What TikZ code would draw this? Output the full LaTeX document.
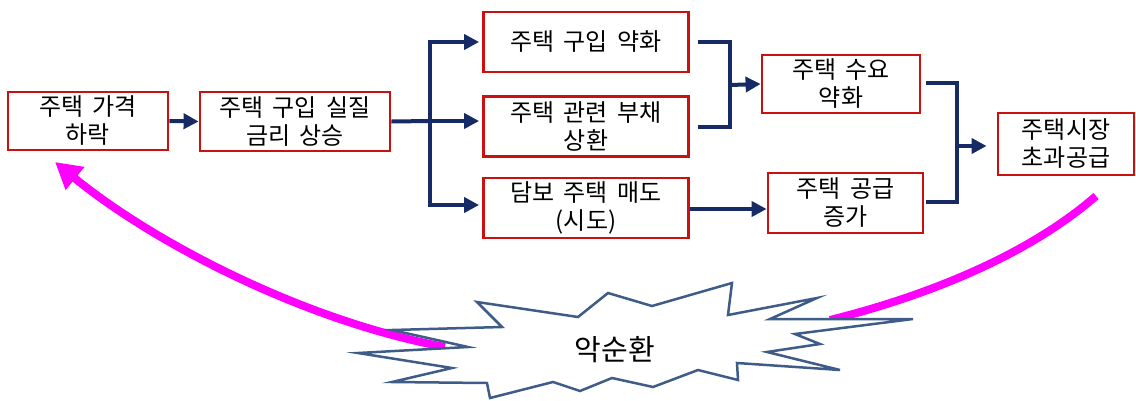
\documentclass[tikz,border=0pt]{standalone}
\usepackage{fontspec}
\setmainfont[WordSpace=1.7]{Noto Sans CJK KR}
\usetikzlibrary{arrows.meta}
\definecolor{boxred}{RGB}{204,16,16}
\definecolor{navy}{RGB}{22,43,102}
\definecolor{mag}{RGB}{255,0,255}
\definecolor{starblue}{RGB}{62,92,135}
\tikzset{
  box/.style={draw=boxred, line width=2.8pt, fill=white, align=center, inner sep=0pt,
    font=\fontsize{24}{28}\selectfont},
  conn/.style={draw=navy, line width=4pt},
  arr/.style={conn, -{Triangle[length=15pt,width=15pt]}},
  cyc/.style={draw=mag, line width=8pt},
}
\begin{document}
\begin{tikzpicture}[x=1pt,y=-1pt]
\useasboundingbox (0,0) rectangle (1136,400);
% boxes
\node[box, minimum width=160pt, minimum height=58pt] (A) at (88,121) {주택 가격\\하락};
\node[box, minimum width=190pt, minimum height=59pt] (B) at (295,121.5) {주택 구입 실질\\금리 상승};
\node[box, minimum width=205pt, minimum height=60pt] (C) at (586,42) {주택 구입 약화};
\node[box, minimum width=205pt, minimum height=60pt] (D) at (586,126.5) {주택 관련 부채\\상환};
\node[box, minimum width=205pt, minimum height=60pt] (E) at (586,208) {담보 주택 매도\\(시도)};
\node[box, minimum width=158pt, minimum height=58pt] (F) at (841,84) {주택 수요\\약화};
\node[box, minimum width=155pt, minimum height=60pt] (G) at (845.5,203) {주택 공급\\증가};
\node[box, minimum width=136pt, minimum height=62pt] (H) at (1066,144) {주택시장\\초과공급};
% connectors
\coordinate (j1) at (430,121);
\coordinate (j2) at (730,85);
\coordinate (j3) at (957,146);
\draw[arr] (A.east) -- (B.west);
\draw[conn] (B.east) -- (j1);
\draw[arr] (j1) |- ([xshift=-3pt]C.west);
\draw[arr] (j1) -- ([xshift=-3pt]j1 -| D.west);
\draw[arr] (j1) |- ([xshift=-3pt,yshift=3pt]E.west);
\draw[conn] ([xshift=8pt]C.east) -| (j2);
\draw[conn] ([xshift=8pt]D.east) -| (j2);
\draw[arr] (j2) -- (F.west);
\draw[arr] ([yshift=-1pt]E.east) -- ([yshift=-1pt]E.east -| G.west);
\draw[conn] ([xshift=5pt,yshift=1pt]F.east) -| (j3);
\draw[conn] ([xshift=2pt,yshift=1pt]G.east) -| (j3);
\draw[arr] (j3) -- ([xshift=-10pt]j3 -| H.west);
% cycle arrows
\coordinate (m1) at (445,347);
\coordinate (m2) at (55,162);
\coordinate (m3) at (1096,196);
\coordinate (m4) at (830,320);
\draw[cyc, -{Triangle[length=26pt,width=28pt]}] (m1) .. controls (300,320) and (150,240) .. (m2);
\draw[cyc] (m3) .. controls (1040,245) and (950,290) .. (m4);
% explosion
\draw[draw=starblue, line width=2.5pt, fill=white, line join=miter]
 (477,302) -- (578,317) -- (608,293) -- (652,306) -- (732,283) -- (728,315) -- (817,298) -- (770,319) -- (913,319) -- (795,334) -- (820,344) -- (767,352) -- (840,370) -- (737,363) -- (738,380) -- (698,370) -- (653,387) -- (612,378) -- (580,391) -- (553,382) -- (490,398) -- (487,383) -- (392,382) -- (452,368) -- (358,353) -- (468,347) -- (392,330) -- (502,327) -- cycle;
\node[font=\fontsize{29}{32}\selectfont, inner sep=0pt] (S) at (615,350) {악순환};
\end{tikzpicture}
\end{document}
